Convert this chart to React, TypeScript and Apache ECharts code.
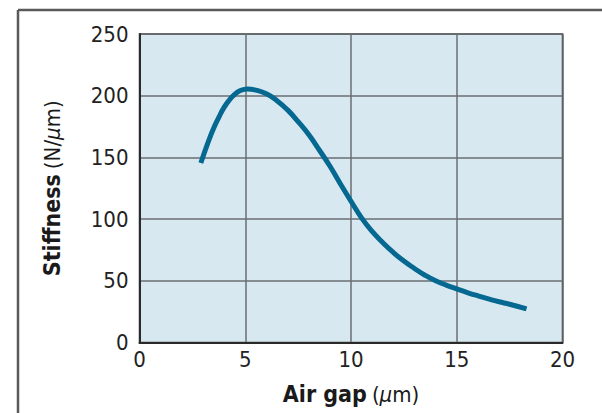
import React, { useEffect, useRef } from "react";
import * as echarts from "echarts";

const airGap = [2.9, 3.25, 3.5, 3.75, 4.0, 4.25, 4.5, 4.75, 5.1, 5.5, 6.0, 6.5, 7.0, 7.5, 8.0, 8.5, 9.0, 9.5, 10.0, 10.5, 11.0, 11.5, 12.0, 12.5, 13.0, 13.5, 14.0, 14.5, 15.0, 15.5, 16.0, 16.5, 17.0, 17.5, 18.3];
const stiffness = [145.5, 162.5, 173.5, 182.5, 190.5, 196.5, 201, 204, 205.5, 204.5, 201.5, 196, 188.5, 179, 168.5, 156, 143, 128.5, 114.5, 101, 90, 81, 73, 66, 60, 54.5, 50, 46.5, 43.5, 40.5, 37.8, 35.3, 33, 31, 27.2];
const xTicks = [0, 5, 10, 15, 20];
const yTicks = [0, 50, 100, 150, 200, 250];

const FONT = "'Liberation Sans Narrow', 'DejaVu Sans Condensed', 'Roboto Condensed', sans-serif";

export default function App() {
  const ref = useRef<HTMLDivElement>(null);
  useEffect(() => {
    if (!ref.current) return;
    const chart = echarts.init(ref.current, undefined, { renderer: "svg" });
    const data = airGap.map((x, i) => [x, stiffness[i]]);
    const rich = {
      b: { fontFamily: FONT, fontWeight: "bold", fontSize: 23, color: "#1a1a1a" },
      n: { fontFamily: FONT, fontSize: 22, color: "#1a1a1a" },
      i: { fontFamily: FONT, fontSize: 22, fontStyle: "italic", color: "#1a1a1a" },
      s: { fontSize: 22, width: 5 },
    };
    chart.setOption({
      animation: false,
      backgroundColor: "#ffffff",
      grid: {
        left: 139.5,
        top: 34,
        right: 39.5,
        bottom: 70.5,
        show: true,
        backgroundColor: "#d8e8f1",
        borderColor: "#3a3a3a",
        borderWidth: 1.5,
      },
      xAxis: {
        type: "value",
        min: xTicks[0],
        max: xTicks[xTicks.length - 1],
        interval: 5,
        axisLine: { show: true, lineStyle: { color: "#2a2a2a", width: 2 } },
        axisTick: { show: false },
        splitLine: { show: true, lineStyle: { color: "#6a6e72", width: 1.5 } },
        axisLabel: { color: "#222", fontSize: 22, fontFamily: FONT, margin: 6 },
        name: "{b|Air gap}{s|}{n|(}{i|μ}{n|m)}",
        nameLocation: "middle",
        nameGap: 40,
        nameTextStyle: { rich },
      },
      yAxis: {
        type: "value",
        min: yTicks[0],
        max: yTicks[yTicks.length - 1],
        interval: 50,
        axisLine: { show: true, lineStyle: { color: "#2a2a2a", width: 2 } },
        axisTick: { show: false },
        splitLine: { show: true, lineStyle: { color: "#6a6e72", width: 1.5 } },
        axisLabel: { color: "#222", fontSize: 22, fontFamily: FONT, margin: 11 },
        name: "{b|Stiffness}{s|}{n|(N/}{i|μ}{n|m)}",
        nameLocation: "middle",
        nameGap: 76,
        nameRotate: 90,
        nameTextStyle: { rich },
      },
      graphic: [
        { type: "line", shape: { x1: 18, y1: 10, x2: 602, y2: 10 }, style: { stroke: "#5a5a5a", lineWidth: 2.5 } },
        { type: "line", shape: { x1: 18, y1: 10, x2: 18, y2: 413 }, style: { stroke: "#5a5a5a", lineWidth: 2.5 } },
      ],
      series: [
        {
          type: "line",
          data,
          smooth: 0.5,
          showSymbol: false,
          lineStyle: { color: "#056890", width: 5, cap: "butt" },
        },
      ],
    });
    return () => chart.dispose();
  }, []);
  return (
    <div
      ref={ref}
      style={{ position: "absolute", left: 0, top: 0, width: 602, height: 413 }}
    />
  );
}
